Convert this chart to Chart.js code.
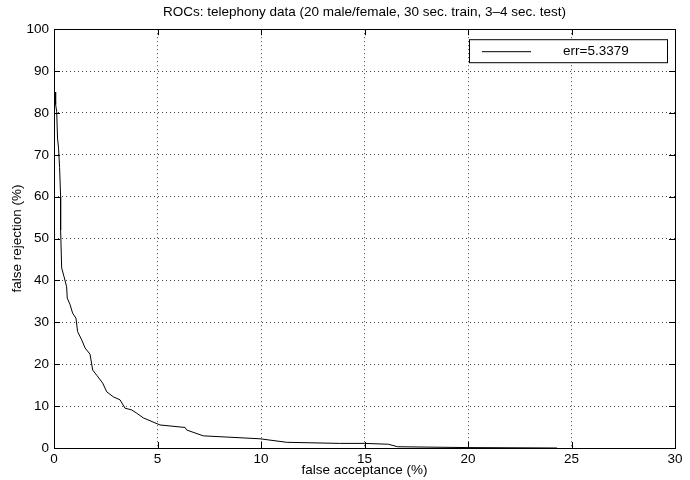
<!DOCTYPE html>
<html>
<head>
<meta charset="utf-8">
<script src="https://cdn.jsdelivr.net/npm/chart.js@4/dist/chart.umd.min.js"></script>
<style>
  html, body { margin: 0; padding: 0; background: #fff; }
  #wrap { width: 690px; height: 480px; }
</style>
</head>
<body>
<div id="wrap"><canvas id="roc" width="690" height="480"></canvas></div>
<script>
const titleText = "ROCs: telephony data (20 male/female, 30 sec. train, 3\u20134 sec. test)";
const legendLabel = "err=5.3379";

// false acceptance (%) / false rejection (%)
const falseAcceptance = [0.05, 0.08, 0.13, 0.17, 0.22, 0.27, 0.32, 0.32, 0.37, 0.48, 0.61, 0.64, 0.77, 0.9, 1.06, 1.14,
  1.34, 1.5, 1.74, 1.87, 2.06, 2.35, 2.55, 2.87, 3.19, 3.43, 3.75, 4.0, 4.31, 5.12, 6.33, 6.41, 7.21,
  9.95, 11.24, 13.8, 15.0, 16.15, 16.6, 20.0, 24.3];
const falseRejection = [85, 82, 80.3, 74, 71.6, 67, 60, 52, 43, 41, 38.5, 35.8, 34.3, 32.2, 31, 27.8,
  25.8, 23.9, 22.4, 18.6, 17.4, 15.5, 13.4, 12.2, 11.5, 9.5, 9.1, 8.3, 7.2, 5.5, 4.9, 4.3, 2.9,
  2.2, 1.36, 1.1, 1.1, 0.9, 0.3, 0.1, 0];

const xTicks = [0, 5, 10, 15, 20, 25, 30];
const yTicks = [0, 10, 20, 30, 40, 50, 60, 70, 80, 90, 100];

const FONT = "'Liberation Sans', Arial, Helvetica, sans-serif";
const FS = 13.5;
Chart.defaults.font.family = FONT;
Chart.defaults.font.size = FS;
Chart.defaults.color = "#000";

// matlab style box, inward ticks and legend
const matlabBox = {
  id: "matlabBox",
  afterDatasetsDraw(chart) {
    const { ctx, chartArea: a, scales } = chart;
    ctx.save();
    ctx.strokeStyle = "#000";
    ctx.lineWidth = 1;
    ctx.strokeRect(Math.round(a.left) + 0.5, Math.round(a.top) + 0.5,
      Math.round(a.right - a.left), Math.round(a.bottom - a.top));
    ctx.beginPath();
    for (const v of xTicks) {
      const px = Math.round(scales.x.getPixelForValue(v)) + 0.5;
      ctx.moveTo(px, a.bottom); ctx.lineTo(px, a.bottom - 6);
      ctx.moveTo(px, a.top); ctx.lineTo(px, a.top + 6);
    }
    for (const v of yTicks) {
      const py = Math.round(scales.y.getPixelForValue(v)) + 0.5;
      ctx.moveTo(a.left, py); ctx.lineTo(a.left + 6, py);
      ctx.moveTo(a.right, py); ctx.lineTo(a.right - 6, py);
    }
    ctx.stroke();

    // legend box in the upper right corner
    const bx = a.right - 206, by = a.top + 10, bw = 198, bh = 23;
    ctx.fillStyle = "#fff";
    ctx.fillRect(bx, by, bw, bh);
    ctx.strokeRect(bx + 0.5, by + 0.5, bw, bh);
    ctx.beginPath();
    ctx.moveTo(bx + 13, by + 12.5);
    ctx.lineTo(bx + 62, by + 12.5);
    ctx.stroke();
    ctx.fillStyle = "#000";
    ctx.font = FS + "px " + FONT;
    ctx.textBaseline = "middle";
    ctx.fillText(legendLabel, bx + 94, by + 12.5);
    ctx.restore();
  }
};

new Chart(document.getElementById("roc"), {
  type: "scatter",
  data: {
    datasets: [{
      label: legendLabel,
      data: falseAcceptance.map((x, i) => ({ x, y: falseRejection[i] })),
      showLine: true,
      borderColor: "#000",
      borderWidth: 1,
      pointRadius: 0,
      tension: 0,
    }],
  },
  options: {
    responsive: false,
    animation: false,
    layout: { padding: { left: 0, right: 15, top: 0, bottom: 0 } },
    plugins: {
      legend: { display: false },
      tooltip: { enabled: false },
      title: {
        display: true,
        fullSize: false,
        text: titleText,
        color: "#000",
        font: { size: FS, weight: "normal" },
        padding: { top: 4, bottom: 9 },
      },
    },
    scales: {
      x: {
        type: "linear",
        min: 0,
        max: 30,
        afterBuildTicks: s => { s.ticks = xTicks.map(v => ({ value: v })); },
        ticks: { padding: 3, maxRotation: 0, font: { size: FS } },
        grid: { color: "#444", drawTicks: false },
        border: { display: false, dash: [1, 3] },
        title: { display: true, text: "false acceptance (%)", padding: { top: 0, bottom: 2 }, font: { size: FS } },
        afterFit: s => { s.height = 32; },
      },
      y: {
        type: "linear",
        min: 0,
        max: 100,
        afterBuildTicks: s => { s.ticks = yTicks.map(v => ({ value: v })); },
        ticks: { padding: 5, font: { size: FS } },
        grid: { color: "#444", drawTicks: false },
        border: { display: false, dash: [1, 3] },
        title: { display: true, text: "false rejection (%)", padding: { top: 9, bottom: 0 }, font: { size: FS } },
        afterFit: s => { s.width = 54; },
      },
    },
  },
  plugins: [matlabBox],
});
</script>
</body>
</html>
